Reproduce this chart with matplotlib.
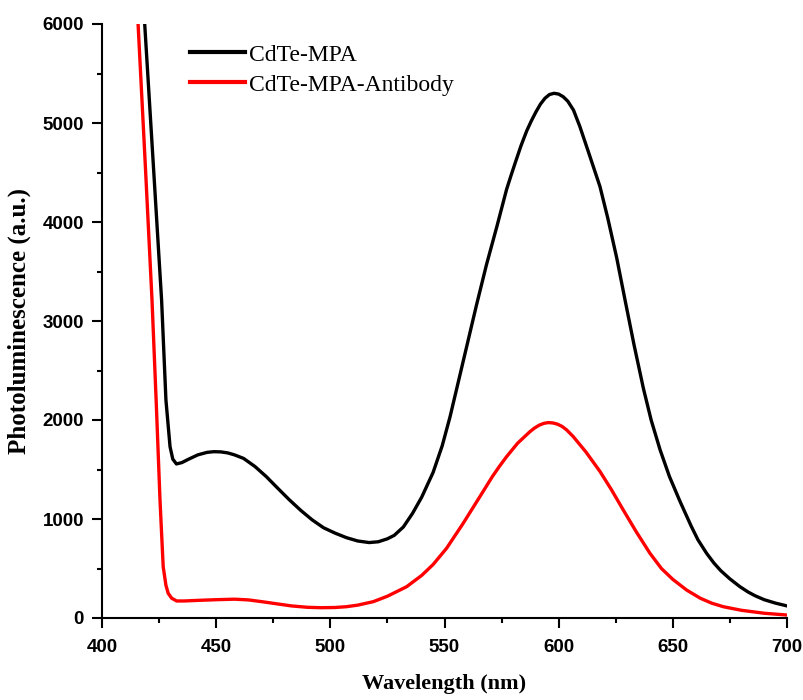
import matplotlib
matplotlib.use("Agg")
import matplotlib.pyplot as plt
from matplotlib.ticker import MultipleLocator

# ---- data ----
wl_mpa = [417.7, 418.7, 422.5, 426.1, 428.0, 429.8, 431.0, 432.6, 435.0, 438.0,
          442.0, 446.0, 449.0, 452.0, 455.0, 458.0, 462.0, 467.0, 472.0, 477.0,
          482.0, 487.0, 492.0, 497.0, 502.0, 507.0, 512.0, 517.0, 521.0, 525.0,
          528.0, 532.0, 536.0, 540.0, 545.0, 549.0, 552.4, 556.0, 560.0, 564.0,
          568.4, 573.0, 577.2, 579.0, 581.0, 583.5, 586.0, 588.0, 590.0, 592.0,
          594.0, 596.0, 598.0, 600.0, 602.0, 604.0, 606.5, 609.3, 613.0, 618.1,
          621.5, 625.4, 629.0, 633.0, 637.1, 640.5, 644.4, 648.5, 653.1, 658.0,
          661.0, 664.8, 668.0, 671.0, 675.0, 679.4, 683.0, 686.0, 690.0, 695.0,
          700.0]
pl_mpa = [6380, 6000, 4570, 3212, 2202, 1730, 1605, 1556, 1570, 1605,
          1648, 1673, 1680, 1678, 1668, 1648, 1612, 1530, 1427, 1310,
          1195, 1088, 992, 912, 858, 812, 778, 762, 770, 800,
          835, 920, 1057, 1220, 1470, 1740, 2030, 2380, 2770, 3160,
          3570, 3960, 4330, 4460, 4600, 4770, 4920, 5020, 5110, 5190,
          5250, 5288, 5300, 5292, 5265, 5220, 5130, 4963, 4710, 4357,
          4040, 3640, 3220, 2760, 2320, 2000, 1700, 1430, 1180, 930,
          790, 653, 555, 478, 395, 316, 262, 225, 185, 150,
          122]

wl_ab = [415.0, 415.8, 419.0, 421.9, 423.8, 425.4, 426.8, 428.0, 429.0, 430.5,
         432.7, 436.0, 442.0, 450.0, 458.0, 464.0, 470.0, 476.0, 483.0, 490.0,
         496.0, 502.0, 507.0, 512.0, 518.8, 525.0, 533.4, 540.0, 545.0, 550.9,
         558.0, 565.5, 571.0, 574.0, 577.2, 582.0, 587.4, 589.5, 591.5, 593.5,
         595.5, 597.5, 599.5, 601.5, 603.5, 606.4, 612.0, 618.1, 623.0, 628.3,
         634.0, 640.0, 645.0, 650.0, 656.0, 662.0, 667.0, 672.1, 680.0, 690.0,
         700.0]
pl_ab = [6370, 6000, 4560, 3212, 2150, 1192, 518, 330, 249, 200,
         172, 172, 178, 185, 190, 183, 165, 145, 122, 108,
         104, 106, 114, 130, 165, 220, 316, 430, 540, 704,
         950, 1226, 1430, 1530, 1630, 1765, 1882, 1920, 1948, 1966,
         1974, 1970, 1958, 1935, 1900, 1832, 1675, 1480, 1300, 1091,
         870, 653, 500, 390, 283, 200, 150, 114, 78, 48,
         30]

labels = ["CdTe-MPA", "CdTe-MPA-Antibody"]
colors = ["#000000", "#ff0000"]

x_ticks = [400, 450, 500, 550, 600, 650, 700]
y_ticks = [0, 1000, 2000, 3000, 4000, 5000, 6000]

# ---- figure ----
fig = plt.figure(figsize=(8.04, 7.0), dpi=100)
ax = fig.add_axes([102 / 804, 82 / 700, 685 / 804, 594 / 700])

ax.plot(wl_mpa, pl_mpa, color=colors[0], lw=2.4, label=labels[0],
        solid_joinstyle="round")
ax.plot(wl_ab, pl_ab, color=colors[1], lw=2.4, label=labels[1],
        solid_joinstyle="round")

ax.set_xlim(400, 700)
ax.set_ylim(0, 6000)
ax.set_xticks(x_ticks)
ax.set_yticks(y_ticks)
ax.xaxis.set_minor_locator(MultipleLocator(25))
ax.yaxis.set_minor_locator(MultipleLocator(500))

for s in ["top", "right"]:
    ax.spines[s].set_visible(False)
for s in ["left", "bottom"]:
    ax.spines[s].set_linewidth(1.5)

ax.tick_params(which="major", direction="out", length=7, width=1.5)
ax.tick_params(axis="x", which="major", pad=8)
ax.tick_params(axis="y", which="major", pad=6)
ax.tick_params(which="minor", direction="out", length=3.5, width=1.5)
for lab in ax.get_xticklabels() + ax.get_yticklabels():
    lab.set_fontfamily("Liberation Sans")
    lab.set_fontweight("bold")
    lab.set_fontsize(13.5)

ax.set_xlabel("Wavelength (nm)", fontfamily="Liberation Serif",
              fontweight="bold", fontsize=16, labelpad=13)
ax.set_ylabel("Photoluminescence (a.u.)", fontfamily="Liberation Serif",
              fontweight="bold", fontsize=18, labelpad=8)

leg = ax.legend(loc="upper left", bbox_to_anchor=(0.115, 0.982),
                frameon=False, handlelength=2.3, handletextpad=0.2,
                labelspacing=0.36, borderaxespad=0,
                prop={"family": "Liberation Serif", "size": 17})
for h in leg.legend_handles:
    h.set_linewidth(3)

fig.savefig("out.png", dpi=100)
